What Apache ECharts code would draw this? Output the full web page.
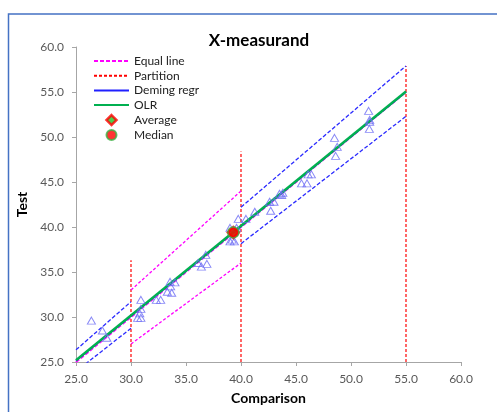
<!DOCTYPE html>
<html>
<head>
<meta charset="utf-8">
<script src="https://cdn.jsdelivr.net/npm/echarts@6/dist/echarts.min.js"></script>
<style>
  html, body { margin: 0; padding: 0; background: #fff; }
  #chart { width: 497px; height: 412px; }
</style>
</head>
<body>
<div id="chart"></div>
<script>
// measured points (comparison, test)
const points = [
    [26.4, 29.6], [27.4, 28.5], [27.8, 27.7], [30.6, 29.9], [30.9, 29.9],
    [30.8, 30.4], [30.9, 30.9], [30.9, 31.9], [32.3, 31.9], [32.7, 31.9],
    [33.3, 32.8], [33.7, 32.7], [33.6, 33.4], [33.55, 33.9], [34.0, 33.85],
    [36.1, 36.0], [36.4, 35.6], [36.9, 35.9], [36.8, 36.9], [39.0, 38.4],
    [39.2, 38.6], [39.4, 38.4], [39.0, 39.9], [39.6, 39.9], [39.75, 40.9],
    [40.45, 40.9], [41.25, 41.7], [42.6, 42.8], [43.0, 42.8], [42.7, 41.8],
    [43.5, 43.7], [43.8, 43.8], [43.7, 43.55], [45.5, 44.85], [46.0, 44.85],
    [46.1, 45.85], [46.4, 45.85], [48.5, 49.9], [48.75, 48.9], [48.6, 47.9],
    [51.6, 52.9], [51.7, 51.9], [51.7, 51.7], [51.67, 50.9]
];

const equalLine = [[25, 25], [55, 55]];
const equalUpper = [[30, 33], [40, 44]];
const equalLower = [[30, 27], [40, 36]];

const partitions = [
    [[30, 25], [30, 36.3]],
    [[40, 25], [40, 48.4]],
    [[55, 25], [55, 57.9]]
];

const demingLine = [[25, 25.15], [55, 55.0]];
const olrLine = [[25, 25.2], [55, 55.05]];

// deming limits, per partition
const demingUpper = [[[25, 26.35], [30, 31.7]], [[40, 42.2], [55, 57.9]]];
const demingLower = [[[25, 23.95], [30, 28.75]], [[40, 38.15], [55, 52.3]]];

const average = [[39.3, 39.4]];
const median = [[39.3, 39.4]];

const xTicks = { min: 25, max: 60, step: 5 };
const yTicks = { min: 25, max: 60, step: 5 };

const FONT = 'Lato, "Liberation Sans", sans-serif';

var chart = echarts.init(document.getElementById('chart'));

var series = [];

function lineSeries(name, data, color, width, dash, z) {
    return {
        name: name,
        type: 'line',
        data: data,
        symbol: 'none',
        silent: true,
        z: z,
        lineStyle: { color: color, width: width, type: dash },
        itemStyle: { color: color }
    };
}

series.push(lineSeries('Equal line', equalLine, '#ff00ff', 2, [4, 2], 3));
series.push(lineSeries('Equal upper', equalUpper, '#ff00ff', 1.3, [3, 2], 3));
series.push(lineSeries('Equal lower', equalLower, '#ff00ff', 1.3, [3, 2], 3));

partitions.forEach(function (p) {
    series.push(lineSeries('Partition', p, '#ff0000', 1.2, [3, 2], 2));
});

demingUpper.forEach(function (p) {
    series.push(lineSeries('Deming upper', p, '#2b2bff', 1.3, [4, 2], 3));
});
demingLower.forEach(function (p) {
    series.push(lineSeries('Deming lower', p, '#2b2bff', 1.3, [4, 2], 3));
});

series.push(lineSeries('Deming regr', demingLine, '#2020ff', 1.5, 'solid', 4));
series.push(lineSeries('OLR', olrLine, '#00b050', 2.5, 'solid', 5));

series.push({
    name: 'Points',
    type: 'scatter',
    data: points,
    symbol: 'triangle',
    symbolSize: [8, 7],
    z: 6,
    itemStyle: { color: 'rgba(255,255,255,0)', borderColor: '#6c6cf4', borderWidth: 1 }
});

series.push({
    name: 'Average',
    type: 'scatter',
    data: average,
    symbol: 'diamond',
    symbolSize: 11,
    z: 7,
    itemStyle: { color: '#22c022', borderColor: '#ff0000', borderWidth: 2.5 }
});
series.push({
    name: 'Median',
    type: 'scatter',
    data: median,
    symbol: 'circle',
    symbolSize: 11,
    z: 8,
    itemStyle: { color: '#ff0000', borderColor: '#3cb043', borderWidth: 1.5 }
});

var noDot = { opacity: 0 };

var option = {
    animation: false,
    backgroundColor: '#fff',
    textStyle: { fontFamily: FONT },
    title: {
        text: 'X-measurand',
        left: 254,
        textAlign: 'center',
        top: 27,
        textStyle: { fontFamily: FONT, fontSize: 17, fontWeight: 'bold', color: '#000' }
    },
    legend: {
        data: [
            { name: 'Equal line', itemStyle: noDot },
            { name: 'Partition', itemStyle: noDot },
            { name: 'Deming regr', itemStyle: noDot },
            { name: 'OLR', itemStyle: noDot },
            { name: 'Average', icon: 'path://M5,0 L10,5 L5,10 L0,5 Z', itemStyle: { borderWidth: 2.5 } },
            { name: 'Median', icon: 'circle' }
        ],
        orient: 'vertical',
        left: 93,
        top: 55,
        padding: 0,
        itemWidth: 35,
        itemHeight: 10,
        itemGap: 2.7,
        symbolKeepAspect: true,
        selectedMode: false,
        textStyle: { fontFamily: FONT, fontSize: 12, color: '#222' }
    },
    grid: { left: 76, right: 36, top: 47, bottom: 50 },
    xAxis: {
        type: 'value',
        min: xTicks.min, max: xTicks.max, interval: xTicks.step,
        name: 'Comparison',
        nameLocation: 'middle',
        nameGap: 29,
        nameTextStyle: { fontFamily: FONT, fontSize: 14, fontWeight: 'bold', color: '#000' },
        axisLine: { onZero: false, lineStyle: { color: '#a6a6a6', width: 1 } },
        axisTick: { show: true, length: 4, lineStyle: { color: '#a6a6a6' } },
        axisLabel: { margin: 11, fontSize: 12, color: '#595959', formatter: function (v) { return v.toFixed(1); } },
        splitLine: { show: false }
    },
    yAxis: {
        type: 'value',
        min: yTicks.min, max: yTicks.max, interval: yTicks.step,
        name: 'Test',
        nameLocation: 'middle',
        nameGap: 32,
        nameTextStyle: { fontFamily: FONT, fontSize: 14, fontWeight: 'bold', color: '#000' },
        axisLine: { show: true, onZero: false, lineStyle: { color: '#a6a6a6', width: 1 } },
        axisTick: { show: true, length: 4, lineStyle: { color: '#a6a6a6' } },
        axisLabel: { margin: 12, fontSize: 12, color: '#595959', formatter: function (v) { return v.toFixed(1); } },
        splitLine: { show: false }
    },
    graphic: [{
        type: 'rect',
        silent: true,
        shape: { x: 8.5, y: 14, width: 700, height: 700 },
        style: { fill: 'none', stroke: '#4472c4', lineWidth: 1.5 }
    }],
    series: series
};

chart.setOption(option);
</script>
</body>
</html>
